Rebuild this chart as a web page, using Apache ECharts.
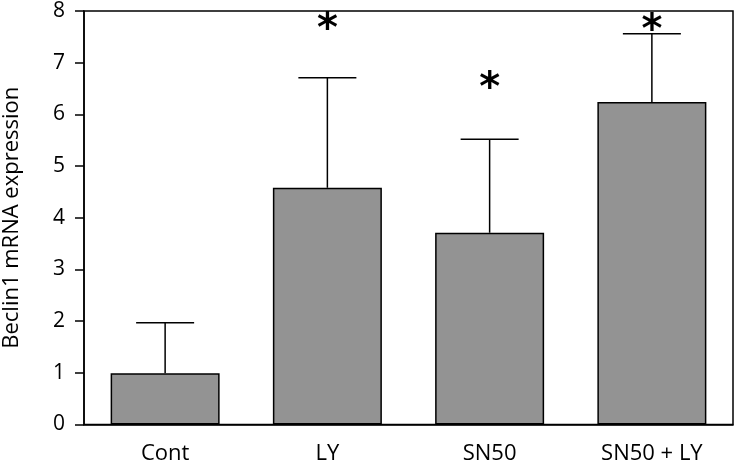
<!DOCTYPE html>
<html>
<head>
<meta charset="utf-8">
<script src="https://cdn.jsdelivr.net/npm/echarts@6/dist/echarts.min.js"></script>
<style>html,body{margin:0;padding:0;background:#fff}#c{width:734px;height:464px}</style>
</head>
<body>
<div id="c"></div>
<script>
var categories = ['Cont', 'LY', 'SN50', 'SN50 + LY'];
var means = [0.99, 4.58, 3.71, 6.24];
var errTops = [1.97, 6.71, 5.52, 7.56];
var starY = [null, 7.77, 6.63, 7.75];
var yTicks = [0, 1, 2, 3, 4, 5, 6, 7, 8];

var FONT = 'Open Sans';
var chart = echarts.init(document.getElementById('c'), null, {renderer: 'canvas'});

var errData = categories.map(function (c, i) { return [i, means[i], errTops[i]]; });
var starData = [];
starY.forEach(function (v, i) { if (v != null) starData.push([i, v]); });

chart.setOption({
  animation: false,
  grid: {left: 84, right: 1, top: 11, bottom: 39.5, show: true, borderColor: '#000', borderWidth: 1.5,
         containLabel: false, outerBoundsMode: 'none'},
  xAxis: {
    type: 'category', data: categories,
    axisLine: {lineStyle: {color: '#000', width: 1.5}},
    axisTick: {alignWithLabel: true, length: 10, lineStyle: {color: '#000', width: 1.5}},
    axisLabel: {color: '#000', fontFamily: FONT, fontSize: 22, margin: 18}
  },
  yAxis: {
    type: 'value', min: yTicks[0], max: yTicks[yTicks.length - 1], interval: 1,
    name: 'Beclin1 mRNA expression', nameLocation: 'middle', nameGap: 61,
    nameTextStyle: {color: '#000', fontFamily: FONT, fontSize: 22},
    axisLine: {show: true, lineStyle: {color: '#000', width: 1.5}},
    axisTick: {show: true, length: 9, lineStyle: {color: '#000', width: 1.5}},
    axisLabel: {color: '#000', fontFamily: FONT, fontSize: 21, margin: 19},
    splitLine: {show: false}
  },
  series: [
    {
      type: 'bar', data: means, barWidth: 109,
      itemStyle: {color: '#939393', borderColor: '#000', borderWidth: 1.5}
    },
    {
      type: 'custom', data: errData, z: 3,
      renderItem: function (params, api) {
        var p0 = api.coord([api.value(0), api.value(1)]);
        var p1 = api.coord([api.value(0), api.value(2)]);
        var half = 29;
        var st = {stroke: '#000', lineWidth: 1.5};
        return {type: 'group', children: [
          {type: 'line', shape: {x1: p0[0], y1: p0[1], x2: p1[0], y2: p1[1]}, style: st},
          {type: 'line', shape: {x1: p1[0] - half, y1: p1[1], x2: p1[0] + half, y2: p1[1]}, style: st}
        ]};
      }
    },
    {
      type: 'custom', data: starData, z: 4,
      renderItem: function (params, api) {
        var p = api.coord([api.value(0), api.value(1)]);
        return {type: 'text', x: p[0], y: p[1] + 8, style: {
          text: '*', fill: '#000', font: 'bold 40px "DejaVu Sans"', align: 'center', verticalAlign: 'middle'
        }};
      }
    }
  ]
});
</script>
</body>
</html>
